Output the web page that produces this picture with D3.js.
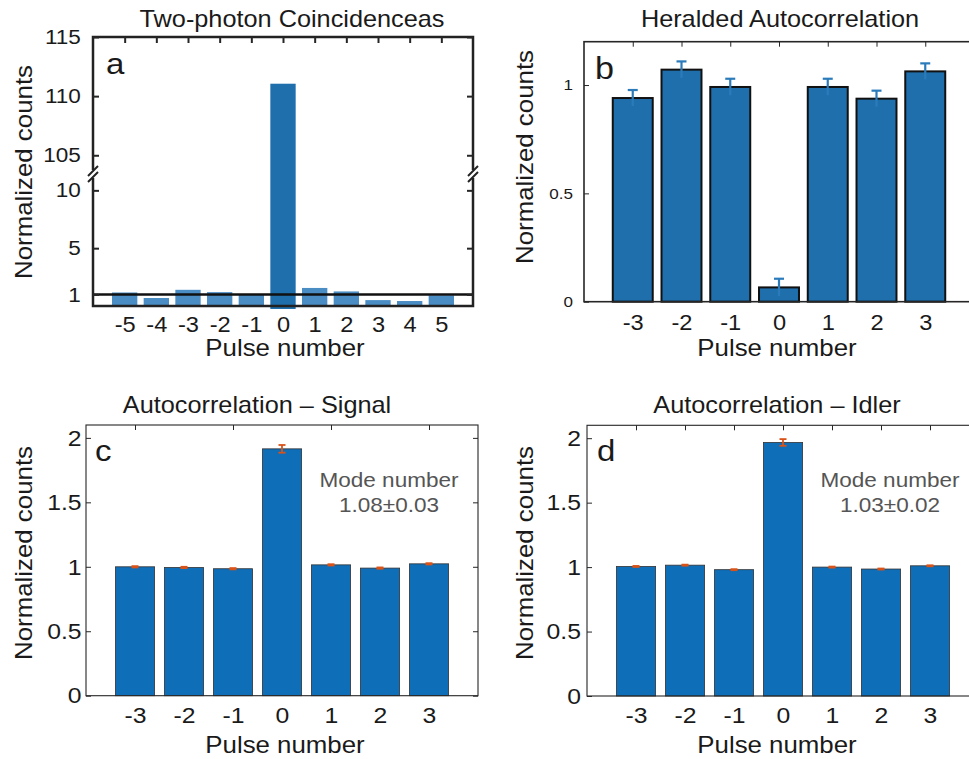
<!DOCTYPE html>
<html>
<head>
<meta charset="utf-8">
<script src="https://cdn.jsdelivr.net/npm/d3@7"></script>
<style>
  body { margin: 0; background: #fff; }
  svg { display: block; font-family: "Liberation Sans", Arial, Helvetica, sans-serif; }
</style>
</head>
<body>
<div id="figuur"></div>
<script>
// paneel a: two-photon coincidences (gebroken as)
const pulsesA = [-5, -4, -3, -2, -1, 0, 1, 2, 3, 4, 5];
const countsA = [1.17, 0.69, 1.40, 1.20, 0.95, 111.05, 1.56, 1.26, 0.51, 0.43, 0.92];
const ticksALow = [1, 5, 10];
const ticksAHigh = [105, 110, 115];

// paneel b: heralded autocorrelation
const pulsesB = [-3, -2, -1, 0, 1, 2, 3];
const heraldB = [0.940, 1.071, 0.991, 0.066, 0.991, 0.937, 1.063];
const heraldErrB = [0.037, 0.038, 0.038, 0.040, 0.038, 0.037, 0.037];
const ticksB = [0, 0.5, 1];

// paneel c en d: autocorrelatie signal / idler
const pulsesCD = [-3, -2, -1, 0, 1, 2, 3];
const signalC = [1.000, 0.995, 0.985, 1.915, 1.015, 0.990, 1.023];
const signalErrC = [0.005, 0.005, 0.005, 0.030, 0.005, 0.005, 0.005];
const idlerD = [1.005, 1.015, 0.980, 1.967, 1.000, 0.985, 1.010];
const idlerErrD = [0.004, 0.004, 0.004, 0.026, 0.004, 0.004, 0.004];
const ticksCD = [0, 0.5, 1, 1.5, 2];
const topTicksC = [-3, -1, 1, 3];

const SX = 1.1; // tekst iets breder zoals in het origineel
const tekstKleur = "#1a1a1a";

const svg = d3.select("#figuur").append("svg")
  .attr("width", 969).attr("height", 759);

// tekst helper
function tekst(x, y, txt, size, opts = {}) {
  const rot = opts.rotate ? ` rotate(${opts.rotate})` : "";
  return svg.append("text")
    .attr("transform", `translate(${x},${y})${rot} scale(${SX},1)`)
    .attr("text-anchor", opts.anchor || "middle")
    .attr("font-size", size)
    .attr("fill", opts.fill || tekstKleur)
    .text(txt);
}

// as helper: inward ticks, geen domain lijn
function as(axis, tx, ty, size) {
  const g = svg.append("g")
    .attr("transform", `translate(${tx},${ty})`)
    .call(axis);
  g.select(".domain").remove();
  g.selectAll(".tick line").attr("stroke", "#262626");
  g.selectAll("text")
    .attr("font-size", size)
    .attr("fill", tekstKleur)
    .attr("font-family", "Liberation Sans, Arial, sans-serif")
    .attr("transform", `scale(${SX},1)`);
  return g;
}

// ---------- paneel a ----------
{
  const x = d3.scaleLinear().domain([-6, 6]).range([93, 473]);
  const yLow = d3.scaleLinear().domain([0, 11.5]).range([306, 173]);
  const yHigh = d3.scaleLinear().domain([103.5, 115]).range([173, 37]);
  const y = (v) => (v > 11.5 ? yHigh(v) : yLow(v));
  const data = pulsesA.map((p, i) => ({ p, v: countsA[i] }));

  svg.append("g").selectAll("rect").data(data).join("rect")
    .attr("x", (d) => x(d.p - 0.4))
    .attr("width", x(0.4) - x(-0.4))
    .attr("y", (d) => y(d.v))
    .attr("height", (d) => yLow(0) - y(d.v) + (d.p === 0 ? 3 : 0))
    .attr("fill", (d) => (d.p === 0 ? "#1f6fad" : "#4a8cc4"));

  // lijn bij 1
  svg.append("line")
    .attr("x1", x(-6)).attr("x2", x(6))
    .attr("y1", yLow(1)).attr("y2", yLow(1))
    .attr("stroke", "#111").attr("stroke-width", 2.5);

  svg.append("rect")
    .attr("x", 93).attr("y", 37).attr("width", 380).attr("height", 269)
    .attr("fill", "none").attr("stroke", "#222").attr("stroke-width", 2.5);

  const fmt = (d) => String(d);
  as(d3.axisLeft(yLow).tickValues(ticksALow).tickSize(-6).tickPadding(11).tickFormat(fmt), 93, 0, 20.5);
  as(d3.axisLeft(yHigh).tickValues(ticksAHigh).tickSize(-6).tickPadding(11).tickFormat(fmt), 93, 0, 20.5);
  as(d3.axisRight(yLow).tickValues(ticksALow).tickSize(-6).tickFormat(""), 473, 0, 20);
  as(d3.axisRight(yHigh).tickValues(ticksAHigh).tickSize(-6).tickFormat(""), 473, 0, 20);
  as(d3.axisTop(x).tickValues(pulsesA).tickSize(-6).tickFormat(""), 0, 37, 20);
  as(d3.axisBottom(x).tickValues(pulsesA).tickSize(0).tickPadding(11).tickFormat(fmt), 0, 306, 21.5);
  svg.selectAll(".tick line").attr("stroke-width", 2);

  // breekstreepjes
  [93, 473].forEach((bx) => {
    const by = 174;
    svg.append("rect").attr("x", bx - 3).attr("y", by - 4).attr("width", 6).attr("height", 8).attr("fill", "#fff");
    [-3, 3].forEach((o) => {
      svg.append("line")
        .attr("x1", bx - 5).attr("y1", by + o + 5)
        .attr("x2", bx + 5).attr("y2", by + o - 5)
        .attr("stroke", "#222").attr("stroke-width", 2);
    });
  });

  tekst(292, 27, "Two-photon Coincidenceas", 23);
  tekst(32, 172, "Normalized counts", 23.5, { rotate: -90 });
  tekst(285, 356, "Pulse number", 23.5);
  tekst(106, 74, "a", 30, { anchor: "start" });
}

// ---------- paneel b ----------
{
  const x = d3.scaleLinear().domain([-4, 4]).range([584, 974]);
  const y = d3.scaleLinear().domain([0, 1.2]).range([301.7, 41.7]);
  const data = pulsesB.map((p, i) => ({ p, v: heraldB[i], e: heraldErrB[i] }));

  svg.append("g").selectAll("rect").data(data).join("rect")
    .attr("x", (d) => x(d.p - 0.41))
    .attr("width", x(0.41) - x(-0.41))
    .attr("y", (d) => y(d.v))
    .attr("height", (d) => y(0) - y(d.v))
    .attr("fill", "#1f6fad")
    .attr("stroke", "#111").attr("stroke-width", 2);

  const err = svg.append("g").attr("stroke", "#2b7bbb").attr("stroke-width", 2.2);
  data.forEach((d) => {
    err.append("line").attr("x1", x(d.p)).attr("x2", x(d.p)).attr("y1", y(d.v - d.e)).attr("y2", y(d.v + d.e));
    err.append("line").attr("x1", x(d.p) - 5).attr("x2", x(d.p) + 5).attr("y1", y(d.v + d.e)).attr("y2", y(d.v + d.e));
  });

  svg.append("rect")
    .attr("x", 584).attr("y", 41.7).attr("width", 390).attr("height", 260)
    .attr("fill", "none").attr("stroke", "#262626").attr("stroke-width", 1.6);

  const fmt = (d) => String(d);
  as(d3.axisLeft(y).tickValues(ticksB).tickSize(-5).tickPadding(10).tickFormat(fmt), 584, 0, 15.5);
  as(d3.axisTop(x).tickValues(pulsesB).tickSize(-5).tickFormat(""), 0, 41.7, 15);
  as(d3.axisBottom(x).tickValues(pulsesB).tickSize(0).tickPadding(13).tickFormat(fmt), 0, 301.7, 21.5);

  tekst(780, 27, "Heralded Autocorrelation", 23);
  tekst(533, 157, "Normalized counts", 23.5, { rotate: -90 });
  tekst(777, 356, "Pulse number", 23.5);
  tekst(595, 79, "b", 31, { anchor: "start" });
}

// ---------- paneel c en d ----------
function autoPaneel(opts) {
  const x = d3.scaleLinear().domain([-4, 4]).range([opts.left, opts.left + 392]);
  const y = d3.scaleLinear().domain([0, 2.1]).range([opts.bottom, opts.bottom - 270.7]);
  const data = pulsesCD.map((p, i) => ({ p, v: opts.waarden[i], e: opts.fouten[i] }));

  svg.append("g").selectAll("rect").data(data).join("rect")
    .attr("x", (d) => x(d.p - 0.4))
    .attr("width", x(0.4) - x(-0.4))
    .attr("y", (d) => y(d.v))
    .attr("height", (d) => y(0) - y(d.v))
    .attr("fill", "#0e6eb8")
    .attr("stroke", "#333").attr("stroke-width", 0.8);

  const err = svg.append("g").attr("stroke", "#d95319").attr("stroke-width", 1.8);
  data.forEach((d) => {
    err.append("line").attr("x1", x(d.p)).attr("x2", x(d.p)).attr("y1", y(d.v - d.e)).attr("y2", y(d.v + d.e));
    [d.v - d.e, d.v + d.e].forEach((c) => {
      err.append("line").attr("x1", x(d.p) - 3.5).attr("x2", x(d.p) + 3.5).attr("y1", y(c)).attr("y2", y(c));
    });
  });

  svg.append("rect")
    .attr("x", opts.left).attr("y", y(2.1)).attr("width", 392).attr("height", y(0) - y(2.1))
    .attr("fill", "none").attr("stroke", "#262626").attr("stroke-width", 1.1);

  const fmt = (d) => String(d);
  as(d3.axisLeft(y).tickValues(ticksCD).tickSize(-5).tickPadding(opts.pad).tickFormat(fmt), opts.left, 0, 22.5);
  as(d3.axisRight(y).tickValues(ticksCD).tickSize(-5).tickFormat(""), opts.left + 392, 0, 22);
  as(d3.axisTop(x).tickValues(opts.topTicks).tickSize(-5).tickFormat(""), 0, y(2.1), 22);
  as(d3.axisBottom(x).tickValues(pulsesCD).tickSize(0).tickPadding(11).tickFormat(fmt), 0, opts.bottom, 22.5);

  tekst(opts.titelX, 413, opts.titel, 23);
  tekst(opts.labelX, 553, "Normalized counts", 23.5, { rotate: -90 });
  tekst(opts.pulseX, 753, "Pulse number", 23.5);
  tekst(opts.letterX, 461, opts.letter, 30, { anchor: "start" });
  tekst(opts.modeX, 487, "Mode number", 20.5, { fill: "#555" });
  tekst(opts.modeX, 512, opts.mode, 20.5, { fill: "#555" });
}

autoPaneel({
  left: 86, bottom: 695.7, waarden: signalC, fouten: signalErrC, topTicks: topTicksC,
  pad: 4, titel: "Autocorrelation \u2013 Signal", titelX: 257, labelX: 32, pulseX: 285,
  letter: "c", letterX: 95, mode: "1.08\u00b10.03", modeX: 389
});
autoPaneel({
  left: 587, bottom: 696, waarden: idlerD, fouten: idlerErrD, topTicks: pulsesCD,
  pad: 5.5, titel: "Autocorrelation \u2013 Idler", titelX: 777, labelX: 533, pulseX: 777,
  letter: "d", letterX: 597, mode: "1.03\u00b10.02", modeX: 890
});
</script>
</body>
</html>
